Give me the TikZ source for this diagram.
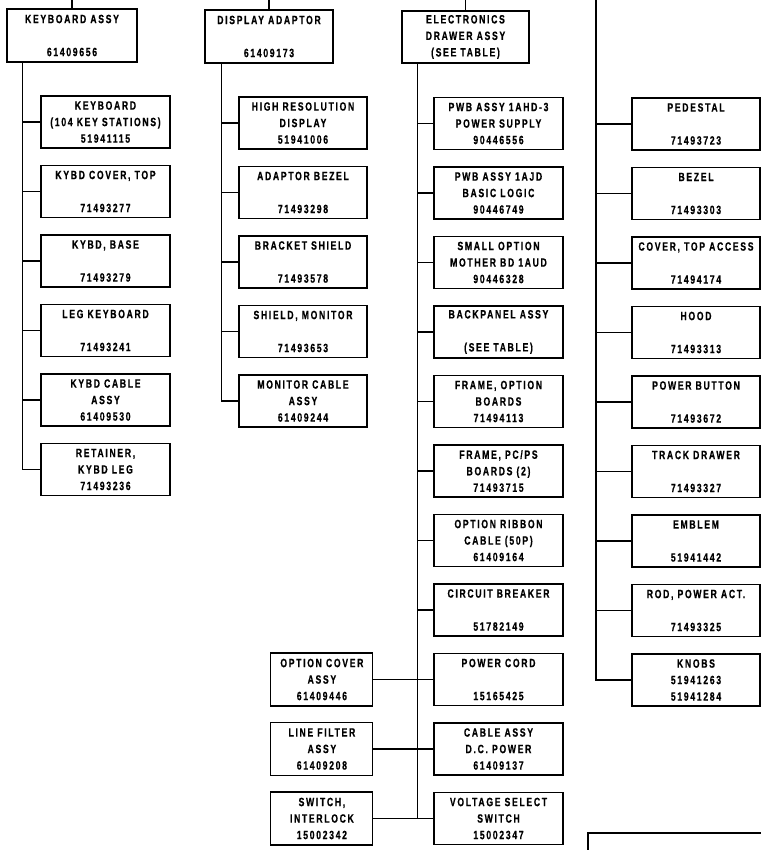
\documentclass[tikz,border=0pt]{standalone}
\usepackage{fontspec}
\newfontfamily\partfont{Liberation Sans}[FakeStretch=0.72,LetterSpace=14,BoldFeatures={FakeBold=0.6}]
\usetikzlibrary{positioning}

\begin{document}
\begin{tikzpicture}[x=1pt,y=-1pt,line width=1.1pt,
 part/.style={draw,minimum width=129pt,minimum height=52pt,inner sep=0pt,align=center,
   font=\partfont\bfseries\fontsize{12}{16.5}\selectfont},
 small/.style={part,minimum width=102pt,minimum height=53pt},
 node distance=16.4pt]
\useasboundingbox (0,0) rectangle (761,850);
\coordinate (top) at (0,0);

% keyboard
\node[part,minimum width=130pt,minimum height=53pt] (kb) at (72,35.5) {KEYBOARD ASSY\\[16.5pt]61409656};
\node[part] (kb1) at (105.5,122) {KEYBOARD\\(104 KEY STATIONS)\\51941115};
\node[part,below=of kb1] (kb2) {KYBD COVER, TOP\\[16.5pt]71493277};
\node[part,below=of kb2] (kb3) {KYBD, BASE\\[16.5pt]71493279};
\node[part,below=of kb3] (kb4) {LEG KEYBOARD\\[16.5pt]71493241};
\node[part,below=of kb4] (kb5) {KYBD CABLE\\ASSY\\61409530};
\node[part,below=of kb5] (kb6) {RETAINER,\\KYBD LEG\\71493236};

% display
\node[part,minimum width=128pt,minimum height=53pt] (da) at (269,36.5) {DISPLAY ADAPTOR\\[16.5pt]61409173};
\node[part,minimum width=128pt] (da1) at (303,123) {HIGH RESOLUTION\\DISPLAY\\51941006};
\node[part,minimum width=128pt,below=of da1] (da2) {ADAPTOR BEZEL\\[16.5pt]71493298};
\node[part,minimum width=128pt,below=of da2] (da3) {BRACKET SHIELD\\[16.5pt]71493578};
\node[part,minimum width=128pt,below=of da3] (da4) {SHIELD, MONITOR\\[16.5pt]71493653};
\node[part,minimum width=128pt,below=of da4] (da5) {MONITOR CABLE\\ASSY\\61409244};

% electronics drawer
\node[part,minimum width=127pt] (ed) at (465.5,37) {ELECTRONICS\\DRAWER ASSY\\(SEE TABLE)};
\node[part] (ed1) at (498.5,123.5) {PWB ASSY 1AHD-3\\POWER SUPPLY\\90446556};
\node[part,below=of ed1] (ed2) {PWB ASSY 1AJD\\BASIC LOGIC\\90446749};
\node[part,below=of ed2] (ed3) {SMALL OPTION\\MOTHER BD 1AUD\\90446328};
\node[part,below=of ed3] (ed4) {BACKPANEL ASSY\\[16.5pt](SEE TABLE)};
\node[part,below=of ed4] (ed5) {FRAME, OPTION\\BOARDS\\71494113};
\node[part,below=of ed5] (ed6) {FRAME, PC/PS\\BOARDS (2)\\71493715};
\node[part,below=of ed6] (ed7) {OPTION RIBBON\\CABLE (50P)\\61409164};
\node[part,below=of ed7] (ed8) {CIRCUIT BREAKER\\[16.5pt]51782149};
\node[part,below=of ed8] (ed9) {POWER CORD\\[16.5pt]15165425};
\node[part,below=of ed9] (ed10) {CABLE ASSY\\D.C. POWER\\61409137};
\node[part,below=of ed10] (ed11) {VOLTAGE SELECT\\SWITCH\\15002347};

\node[small,left=60pt of ed9] (lb1) {OPTION COVER\\ASSY\\61409446};
\node[small,left=60pt of ed10] (lb2) {LINE FILTER\\ASSY\\61409208};
\node[small,left=60pt of ed11] (lb3) {SWITCH,\\INTERLOCK\\15002342};

% right column
\node[part,minimum width=128pt] (r1) at (696,124) {PEDESTAL\\[16.5pt]71493723};
\node[part,minimum width=128pt,below=of r1] (r2) {BEZEL\\[16.5pt]71493303};
\node[part,minimum width=128pt,below=of r2] (r3) {COVER, TOP ACCESS\\[16.5pt]71494174};
\node[part,minimum width=128pt,below=of r3] (r4) {HOOD\\[16.5pt]71493313};
\node[part,minimum width=128pt,below=of r4] (r5) {POWER BUTTON\\[16.5pt]71493672};
\node[part,minimum width=128pt,below=of r5] (r6) {TRACK DRAWER\\[16.5pt]71493327};
\node[part,minimum width=128pt,below=of r6] (r7) {EMBLEM\\[16.5pt]51941442};
\node[part,minimum width=128pt,below=of r7] (r8) {ROD, POWER ACT.\\[16.5pt]71493325};
\node[part,minimum width=128pt,below=of r8] (r9) {KNOBS\\51941263\\51941284};

% feeds from above
\draw (kb.north) -- (kb.north |- top);
\draw (da.north) -- (da.north |- top);
\draw (ed.north) -- (ed.north |- top);

% trunks and branches
\coordinate (kbt) at ([xshift=16pt]kb.south west);
\draw (kbt) |- (kb6.west);
\foreach \i in {1,...,5} \draw (kbt |- kb\i.west) -- (kb\i.west);

\coordinate (dat) at ([xshift=17pt]da.south west);
\draw (dat) |- (da5.west);
\foreach \i in {1,...,4} \draw (dat |- da\i.west) -- (da\i.west);

\coordinate (edt) at ([xshift=16pt]ed.south west);
\draw (edt) |- (ed11.west);
\foreach \i in {1,...,10} \draw (edt |- ed\i.west) -- (ed\i.west);
\draw (lb1.east) -- (ed9.west);
\draw (lb2.east) -- (ed10.west);
\draw (lb3.east) -- (ed11.west);

\coordinate (rt) at (596,0);
\draw (rt) |- (r9.west);
\foreach \i in {1,...,8} \draw (rt |- r\i.west) -- (r\i.west);

% table box, cut off at the corner
\draw[line width=2.2pt] (588,850) |- (761,833);
\end{tikzpicture}
\end{document}
